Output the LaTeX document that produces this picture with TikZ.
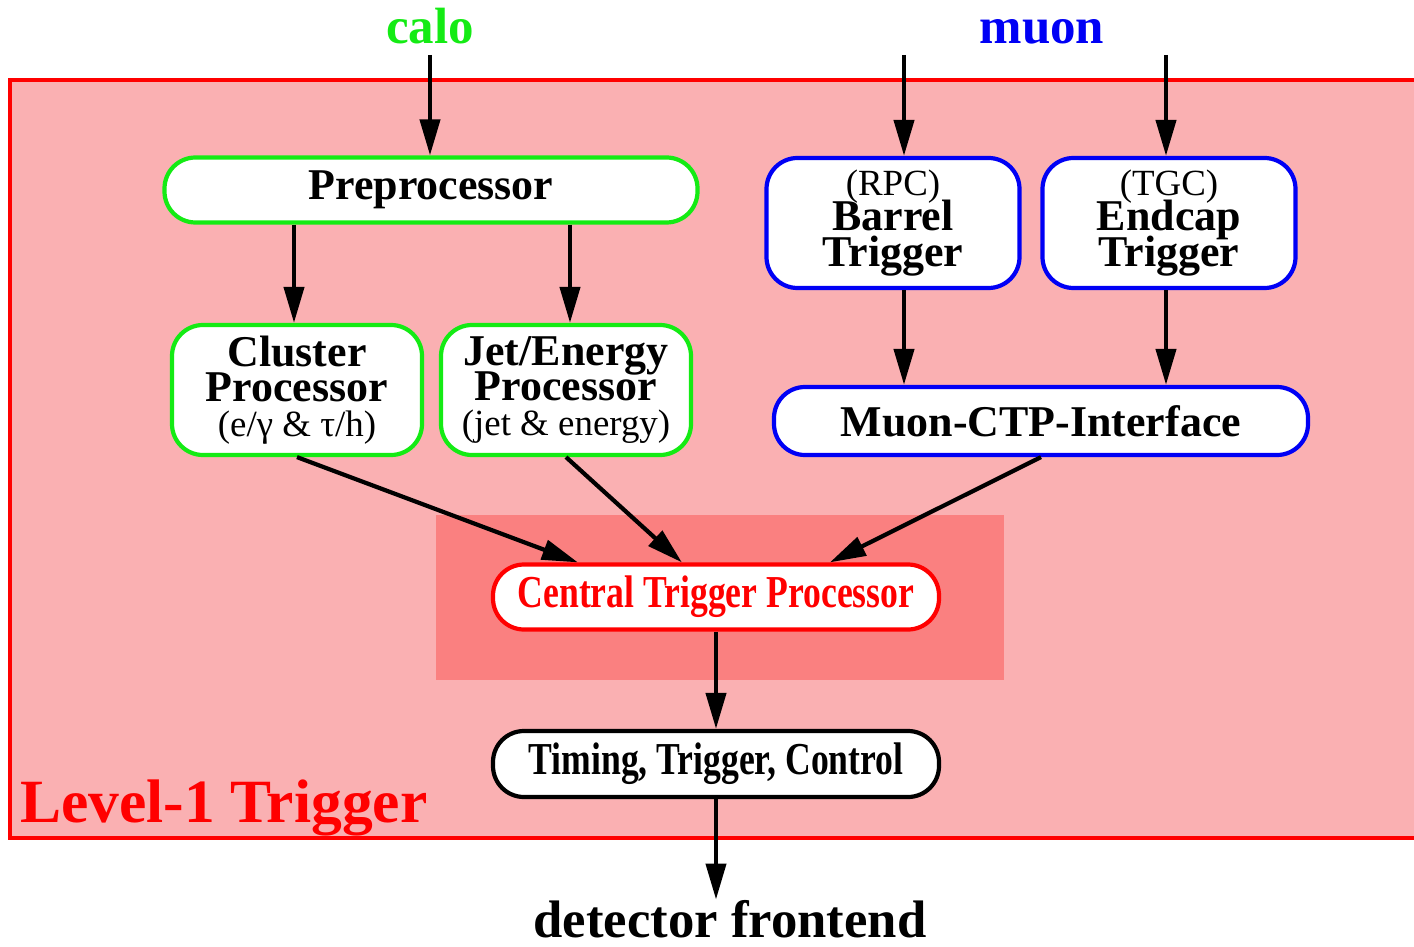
\documentclass[tikz,border=0pt]{standalone}
\usepackage{fontspec}
\setmainfont{Liberation Serif}
\newfontfamily\narrowfont[FakeStretch=0.78]{Liberation Serif}
\usetikzlibrary{arrows.meta,calc}

\definecolor{lvlpink}{RGB}{250,176,178}
\definecolor{ctppink}{RGB}{250,128,128}
\definecolor{calogreen}{RGB}{20,235,20}
\definecolor{muonblue}{RGB}{0,0,245}

\newcommand{\boxfont}{\fontsize{25}{20}\selectfont\lineskiplimit=-30pt\bfseries}
\newcommand{\subfont}{\fontsize{21}{20}\selectfont\mdseries}
\newcommand{\narrowbox}{\narrowfont\fontsize{26}{26}\selectfont\bfseries}

\tikzstyle{box}=[fill=white,line width=2.4pt,rounded corners=0.62cm,align=center,inner sep=0pt,font=\boxfont]
\tikzstyle{calobox}=[box,draw=calogreen]
\tikzstyle{muonbox}=[box,draw=muonblue]
\tikzstyle{ctpbox}=[box,draw=red,text=red,font=\narrowbox]
\tikzstyle{ttcbox}=[box,draw=black,font=\narrowbox]
\tikzstyle{arr}=[-{Triangle[length=0.72cm,width=0.4cm]},line width=2.4pt]

\begin{document}
\begin{tikzpicture}
  \useasboundingbox (0,0) rectangle (28.28,-18.94);

  % level-1 area and the CTP region inside it
  \draw[red,line width=2.3pt,fill=lvlpink] (0.2,-1.6) rectangle (28.6,-16.76);
  \fill[ctppink] (8.72,-10.3) rectangle (20.08,-13.6);

  \node[anchor=base,text=calogreen,font=\fontsize{29}{29}\selectfont\bfseries] (calo) at (8.6,-0.88) {calo};
  \node[anchor=base,text=muonblue,font=\fontsize{29}{29}\selectfont\bfseries] (muon) at (20.84,-0.88) {muon};

  \node[calobox,minimum width=10.66cm,minimum height=1.3cm] (pre)  at (8.62,-3.8)  {Preprocessor};
  \node[calobox,minimum width=5cm,minimum height=2.6cm]     (clus) at (5.94,-7.8)  {Cluster\\Processor\\{\subfont (e/γ \& τ/h)}};
  \node[calobox,minimum width=5cm,minimum height=2.6cm]     (jet)  at (11.32,-7.8) {Jet/Energy\\Processor\\{\subfont (jet \& energy)}};

  \node[muonbox,minimum width=5.06cm,minimum height=2.6cm]  (barrel) at (17.86,-4.46) {{\subfont (RPC)}\\Barrel\\Trigger};
  \node[muonbox,minimum width=5.06cm,minimum height=2.6cm]  (endcap) at (23.38,-4.46) {{\subfont (TGC)}\\Endcap\\Trigger};
  \node[muonbox,minimum width=10.68cm,minimum height=1.36cm] (mci)   at (20.82,-8.42) {Muon-CTP-Interface};

  \node[ctpbox,minimum width=8.92cm,minimum height=1.3cm]  (ctp) at (14.32,-11.94) {Central Trigger Processor};
  \node[ttcbox,minimum width=8.92cm,minimum height=1.32cm] (ttc) at (14.32,-15.28) {Timing, Trigger, Control};

  \node[anchor=base,inner sep=0pt,font=\fontsize{30}{30}\selectfont\bfseries] (dfe) at (14.6,-18.74) {detector frontend};
  \node[anchor=base west,inner sep=0pt,text=red,font=\fontsize{35}{35}\selectfont\bfseries] (lvl) at (0.4,-16.44) {Level-1 Trigger};

  % inputs from the detectors
  \coordinate (caloin) at (8.6,-1.1);
  \coordinate (rpcin)  at (18.08,-1.1);
  \coordinate (tgcin)  at (23.32,-1.1);

  \foreach \from in {caloin/pre, rpcin/barrel, tgcin/endcap}
    \foreach \a/\b in \from
      \draw[arr] (\a) -- (\a |- \b.north);

  \draw[arr] (pre.south -| 5.88,0) -- (clus.north -| 5.88,0);
  \draw[arr] (pre.south -| 11.4,0) -- (jet.north -| 11.4,0);
  \draw[arr] (rpcin |- barrel.south) -- (rpcin |- mci.north);
  \draw[arr] (tgcin |- endcap.south) -- (tgcin |- mci.north);

  % into the CTP
  \foreach \from/\dx in {clus/1.74, jet/3.82, mci/6.78}
    \draw[arr] (\from.south) -- ($(ctp.north west)+(\dx,0)$);

  \draw[arr] (ctp.south) -- (ttc.north);
  \draw[arr] (ttc.south) -- (ttc.south |- dfe.north);
\end{tikzpicture}
\end{document}
